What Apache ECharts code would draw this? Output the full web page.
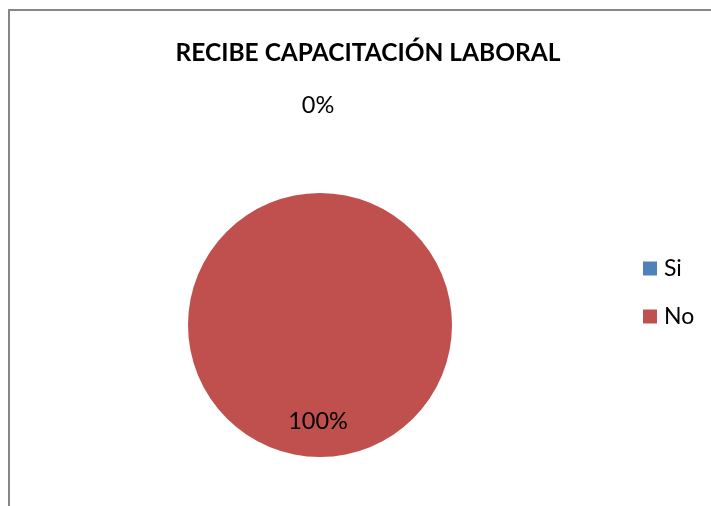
<!DOCTYPE html>
<html>
<head>
<meta charset="utf-8">
<script src="https://cdn.jsdelivr.net/npm/echarts@6/dist/echarts.min.js"></script>
<style>
html,body{margin:0;padding:0;background:#fff;overflow:hidden;}
#chart{position:absolute;left:0;top:0;width:711px;height:506px;}
</style>
</head>
<body>
<div id="chart"></div>
<script>
const titleText = 'RECIBE CAPACITACIÓN LABORAL';
const categories = ['Si', 'No'];
const values = [0, 100];
const colors = ['#4F81BD', '#C0504D'];
const labelTexts = ['0%', '100%'];

const chart = echarts.init(document.getElementById('chart'), null, {renderer: 'canvas'});
const FONT = 'Lato';
chart.setOption({
  animation: false,
  backgroundColor: '#fff',
  graphic: [{
    type: 'rect', silent: true, z: 100,
    shape: {x: 9, y: 10, width: 720, height: 520},
    style: {fill: 'none', stroke: '#868686', lineWidth: 2}
  }],
  title: {
    text: titleText,
    left: 363, top: 36, textAlign: 'center',
    textStyle: {fontFamily: FONT, fontWeight: 'bold', fontSize: 24.5, color: '#000'}
  },
  legend: {
    orient: 'vertical',
    left: 643, top: 257, padding: 0,
    itemWidth: 14, itemHeight: 14, itemGap: 25,
    icon: 'rect',
    data: categories,
    textStyle: {fontFamily: FONT, fontSize: 23, color: '#000', padding: [0, 0, 0, 2]}
  },
  series: [{
    type: 'pie',
    center: [320, 325],
    radius: 132,
    startAngle: 90,
    clockwise: true,
    silent: true,
    avoidLabelOverlap: false,
    data: categories.map((c, i) => ({
      name: c, value: values[i],
      itemStyle: {color: colors[i]},
      label: i === 0
        ? {show: true, position: 'outside', formatter: labelTexts[i]}
        : {show: true, position: 'inside', formatter: labelTexts[i]},
      labelLine: {show: false, length: 80, length2: 0}
    })),
    label: {fontFamily: FONT, fontSize: 23.5, color: '#000'},
    labelLayout: function (p) {
      if (p.dataIndex === 1) return {dy: 27, dx: -2};
      return {align: 'center', verticalAlign: 'middle', dy: -8, dx: 3};
    }
  }]
});
</script>
</body>
</html>
